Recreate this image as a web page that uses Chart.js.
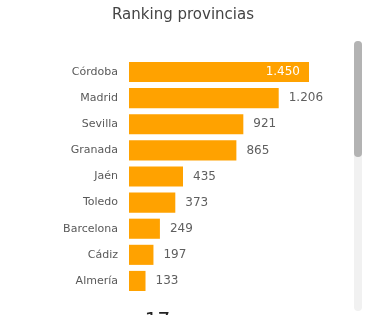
<!DOCTYPE html>
<html>
<head>
<meta charset="utf-8">
<script src="https://cdn.jsdelivr.net/npm/chart.js@4"></script>
<style>
  html, body { margin: 0; padding: 0; background: #ffffff; overflow: hidden; }
  #wrap { position: relative; width: 366px; height: 315px; overflow: hidden; }
  #c { position: absolute; left: 0; top: 0; }
  #track { position: absolute; left: 354px; top: 41px; width: 8px; height: 270px; background: #f1f1f1; border-radius: 4px; }
  #thumb { position: absolute; left: 354px; top: 41px; width: 8px; height: 116px; background: #b3b3b3; border-radius: 4px; }
  #kpi { position: absolute; left: 120px; width: 75px; top: 309px; text-align: center; font: 20px/20px "DejaVu Sans", sans-serif; color: #222; }
</style>
</head>
<body>
<div id="wrap">
  <canvas id="c" width="366" height="315"></canvas>
  <div id="track"></div>
  <div id="thumb"></div>
  <div id="kpi">17</div>
</div>
<script>
const titleText = "Ranking provincias";
const provinces = ["Córdoba", "Madrid", "Sevilla", "Granada", "Jaén", "Toledo", "Barcelona", "Cádiz", "Almería"];
const values = [1450, 1206, 921, 865, 435, 373, 249, 197, 133];
const valueLabels = ["1.450", "1.206", "921", "865", "435", "373", "249", "197", "133"];

const FONT = '"DejaVu Sans", sans-serif';

const valuePlugin = {
  id: 'valueLabels',
  afterDatasetsDraw(chart) {
    const ctx = chart.ctx;
    const meta = chart.getDatasetMeta(0);
    const maxV = Math.max(...values);
    ctx.save();
    ctx.font = '12px ' + FONT;
    ctx.textBaseline = 'middle';
    meta.data.forEach((bar, i) => {
      const txt = valueLabels[i];
      if (values[i] === maxV) {
        ctx.fillStyle = '#ffffff';
        ctx.textAlign = 'right';
        ctx.fillText(txt, bar.x - 9, bar.y);
      } else {
        ctx.fillStyle = '#5f5f5f';
        ctx.textAlign = 'left';
        ctx.fillText(txt, bar.x + 10, bar.y);
      }
    });
    ctx.restore();
  }
};

new Chart(document.getElementById('c'), {
  type: 'bar',
  data: {
    labels: provinces,
    datasets: [{
      data: values,
      backgroundColor: '#FFA200',
      borderWidth: 0,
      categoryPercentage: 1.0,
      barPercentage: 0.77
    }]
  },
  options: {
    indexAxis: 'y',
    responsive: false,
    animation: false,
    layout: { padding: { top: 0, bottom: 21, left: 0, right: 0 } },
    plugins: {
      legend: { display: false },
      tooltip: { enabled: false },
      title: {
        display: true,
        text: titleText,
        color: '#444444',
        font: { family: FONT, size: 15, weight: 'normal', lineHeight: 1.2 },
        padding: { top: 6, bottom: 35 }
      }
    },
    scales: {
      x: { display: false, min: 0, max: 1450 },
      y: {
        grid: { display: false, drawTicks: false },
        border: { display: false },
        ticks: { color: '#595959', font: { family: FONT, size: 11 }, padding: 11 },
        afterFit(s) { s.width = 129; }
      },
      r: {
        type: 'linear',
        position: 'right',
        grid: { display: false, drawTicks: false },
        border: { display: false },
        ticks: { display: false },
        afterFit(s) { s.width = 57; }
      }
    }
  },
  plugins: [valuePlugin]
});
</script>
</body>
</html>
